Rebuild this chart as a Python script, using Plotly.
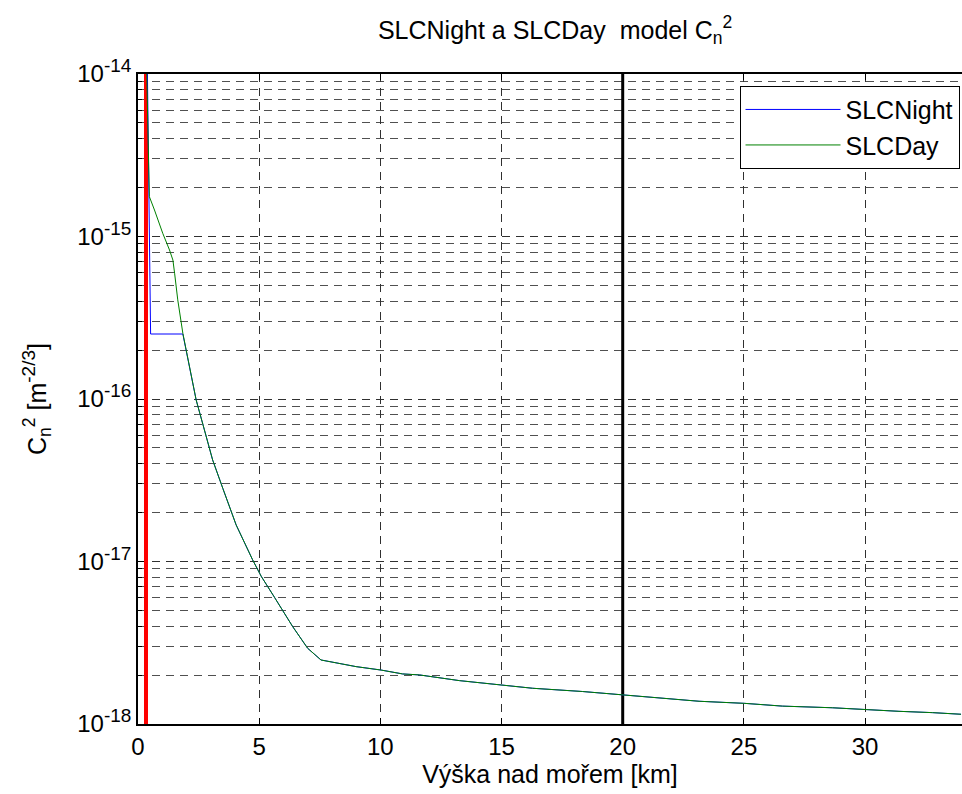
import numpy as np
import plotly.graph_objects as go

# Height above sea level [km] and Cn^2 values
night_h = [0.39, 0.45, 0.52, 1.85, 1.99, 2.40, 2.74, 3.08, 3.50, 4.05, 4.73, 5.08, 5.63, 6.38, 7.00, 7.55,
           9.00, 10.03, 10.92, 11.61, 13.26, 14.91, 16.28, 18.34, 19.99, 21.09, 23.15, 25.04, 26.59,
           28.65, 30.03, 31.40, 32.78, 33.96]
night_log = [-14.0, -14.9, -15.60, -15.60, -15.698, -16.006, -16.19, -16.375, -16.55, -16.775, -16.99, -17.09,
             -17.22, -17.40, -17.534, -17.606, -17.647, -17.668, -17.692, -17.698, -17.733, -17.76, -17.78,
             -17.80, -17.822, -17.834, -17.86, -17.873, -17.89, -17.90, -17.912, -17.922, -17.93, -17.94]

day_h = [0.36, 0.47, 0.68, 1.02, 1.30, 1.44, 1.51, 1.64, 1.85, 1.99, 2.40, 2.74, 3.08, 3.50, 4.05, 4.73,
         5.08, 5.63, 6.38, 7.00, 7.55, 9.00, 10.03, 10.92, 11.61, 13.26, 14.91, 16.28, 18.34, 19.99, 21.09,
         23.15, 25.04, 26.59, 28.65, 30.03, 31.40, 32.78, 33.96]
day_log = [-14.0, -14.755, -14.837, -14.98, -15.083, -15.145, -15.226, -15.39, -15.595, -15.698, -16.006,
           -16.19, -16.375, -16.55, -16.775, -16.99, -17.09, -17.22, -17.40, -17.534, -17.606, -17.647,
           -17.668, -17.692, -17.698, -17.733, -17.76, -17.78, -17.80, -17.822, -17.834, -17.86, -17.873,
           -17.89, -17.90, -17.912, -17.922, -17.93, -17.94]

night_cn2 = [10 ** v for v in night_log]
day_cn2 = [10 ** v for v in day_log]

# Vertical marker lines
red_x = [0.33, 0.33]
black_x = [20, 20]
marker_y = [1e-18, 1e-14]

x_ticks = [0, 5, 10, 15, 20, 25, 30]
y_exponents = [-18, -17, -16, -15, -14]

FONT = "Liberation Sans, Arial, Helvetica, sans-serif"
SUP = "<sup><span style='font-size:19px'>%s</span></sup>"

fig = go.Figure()
fig.add_trace(go.Scatter(x=red_x, y=marker_y, mode="lines", line=dict(color="#ff0000", width=4),
                         showlegend=False, hoverinfo="skip"))
fig.add_trace(go.Scatter(x=black_x, y=marker_y, mode="lines", line=dict(color="black", width=3),
                         showlegend=False, hoverinfo="skip"))
fig.add_trace(go.Scatter(x=night_h, y=night_cn2, mode="lines", name="SLCNight",
                         line=dict(color="#0000ff", width=1)))
fig.add_trace(go.Scatter(x=day_h, y=day_cn2, mode="lines", name="SLCDay",
                         line=dict(color="#008000", width=1)))

minor_vals = [m * 10.0 ** e for e in y_exponents[:-1] for m in range(2, 10)]

fig.update_layout(
    width=962, height=794,
    margin=dict(l=138, r=0, t=74, b=70),
    paper_bgcolor="white", plot_bgcolor="white",
    font=dict(family=FONT, size=25, color="black"),
    title=dict(text="SLCNight a SLCDay  model C<sub>n</sub><sup>2</sup>", x=0.577, xref="container",
               xanchor="center", y=0.962, yanchor="middle", font=dict(size=25)),
    legend=dict(x=0.997, xanchor="right", y=0.982, yanchor="top", bordercolor="black", borderwidth=1,
                bgcolor="white", font=dict(size=25), itemwidth=95, tracegroupgap=0),
    showlegend=True,
)
GRID_MAJ = "#303030"
GRID_MIN = "#505050"
DASH = "8px,6px"
fig.update_xaxes(
    range=[0, 34], tickvals=x_ticks, ticks="inside", ticklen=6, tickcolor="black",
    showline=True, linecolor="black", linewidth=1.5, mirror="ticks",
    showgrid=True, gridcolor=GRID_MAJ, griddash=DASH, gridwidth=1,
    zeroline=False,
    title=dict(text="Výška nad mořem [km]", standoff=6, font=dict(size=25)),
    tickfont=dict(size=24),
)
fig.update_yaxes(
    type="log", range=[-18, -14],
    tickvals=[10.0 ** e for e in y_exponents],
    ticktext=["10" + SUP % e for e in y_exponents],
    ticks="inside", ticklen=6, tickcolor="black",
    showline=True, linecolor="black", linewidth=1.5, mirror=False,
    showgrid=True, gridcolor=GRID_MAJ, griddash=DASH, gridwidth=1,
    zeroline=False,
    minor=dict(tickvals=minor_vals, ticks="inside", ticklen=4, tickcolor="black",
               showgrid=True, gridcolor=GRID_MIN, griddash=DASH, gridwidth=1),
    title=dict(text="C<sub>n</sub><sup>2</sup> [m" + SUP % "-2/3" + "]", standoff=24, font=dict(size=25)),
    tickfont=dict(size=24),
)

fig.write_html("out.html", config={"displayModeBar": False},
               post_script="document.body.style.margin='0px';document.body.style.overflow='hidden';")
